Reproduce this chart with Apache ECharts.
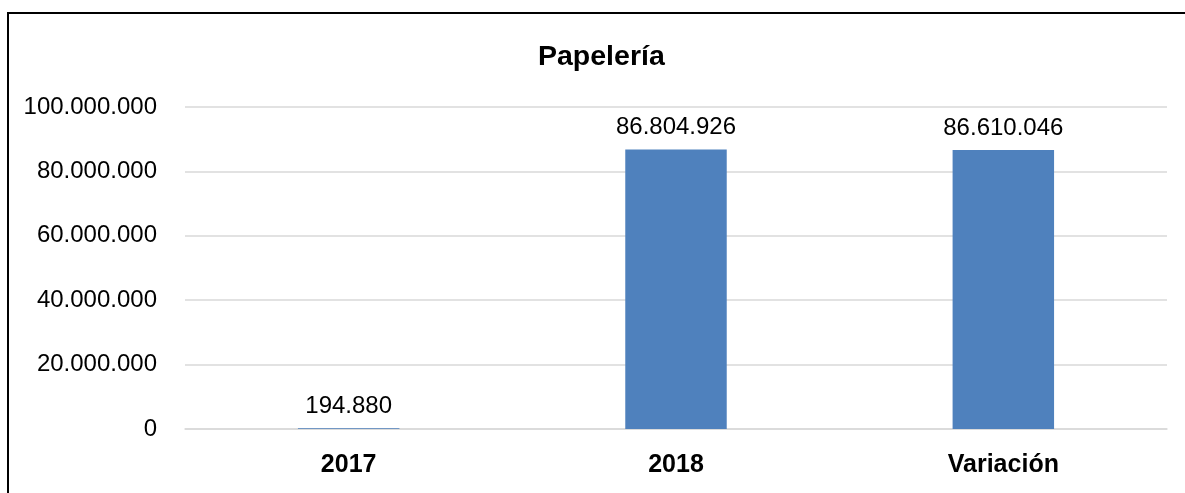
<!DOCTYPE html>
<html><head><meta charset="utf-8">
<script src="https://cdn.jsdelivr.net/npm/echarts@6/dist/echarts.min.js"></script>
<style>html,body{margin:0;padding:0;background:#fff}#c{width:1185px;height:493px}</style>
</head><body><div id="c"></div>
<script>
var categories = ['2017', '2018', 'Variación'];
var values = [194880, 86804926, 86610046];
var yTicks = [0, 20000000, 40000000, 60000000, 80000000, 100000000];

function fmt(v) { return String(Math.round(v)).replace(/\B(?=(\d{3})+(?!\d))/g, '.'); }
var FF = "'Liberation Sans', Arial, sans-serif";

var chart = echarts.init(document.getElementById('c'));
chart.setOption({
  animation: false,
  title: { text: 'Papelería', left: 538, top: 43, padding: 0,
    textStyle: { fontFamily: FF, fontSize: 28.5, fontWeight: 'bold', color: '#000' } },
  grid: { left: 185, right: 18, top: 107, bottom: 64, containLabel: false },
  graphic: [{ type: 'polyline', shape: { points: [[8, 493], [8, 13], [1185, 13]] },
    style: { stroke: '#000', lineWidth: 2, fill: null } }],
  xAxis: { type: 'category', data: categories,
    axisLine: { lineStyle: { color: '#d9d9d9', width: 1.5 } }, axisTick: { show: false },
    axisLabel: { fontFamily: FF, fontSize: 25, fontWeight: 'bold', color: '#000', margin: 24 } },
  yAxis: { type: 'value', min: yTicks[0], max: yTicks[yTicks.length - 1], interval: yTicks[1] - yTicks[0],
    axisLine: { show: false }, axisTick: { show: false },
    splitLine: { lineStyle: { color: '#d9d9d9', width: 1.5 } },
    axisLabel: { fontFamily: FF, fontSize: 24, color: '#000', margin: 28, formatter: fmt } },
  series: [{ type: 'bar', data: values, barWidth: '31%',
    itemStyle: { color: '#4F81BD' },
    label: { show: true, position: 'top', distance: 10, fontFamily: FF, fontSize: 24, color: '#000',
      formatter: function (p) { return fmt(p.value); } } }]
});
</script></body></html>
